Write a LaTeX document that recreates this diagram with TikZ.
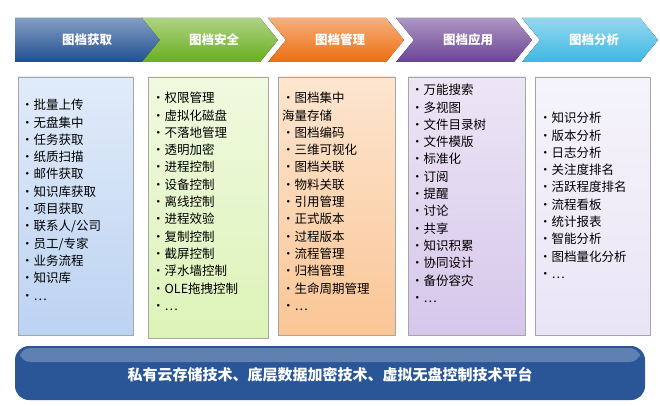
\documentclass[tikz,border=0pt]{standalone}
\usepackage{fontspec}
\setmainfont{Noto Sans CJK SC}
\usetikzlibrary{calc}
\definecolor{cblue}{HTML}{1F4F92}
\definecolor{cgreen}{HTML}{6AAE1F}
\definecolor{corange}{HTML}{EE6E10}
\definecolor{cpurple}{HTML}{6A4394}
\definecolor{ccyan}{HTML}{3DB8E2}
\definecolor{bblue}{HTML}{BCD3F2}
\definecolor{bgreen}{HTML}{DDF3B8}
\definecolor{borange}{HTML}{FAC696}
\definecolor{bpurple}{HTML}{D5C7EA}
\definecolor{bcyan}{HTML}{EAE5F6}
\definecolor{banner}{HTML}{2A5698}
\begin{document}
\begin{tikzpicture}[x=1pt,y=-1pt]
\tikzstyle{item}=[font=\fontsize{12.5}{17.3}\selectfont,align=left,anchor=north west,inner sep=0pt]
\tikzstyle{head}=[font=\bfseries\fontsize{12.5}{14}\selectfont,text=white]
\useasboundingbox (0,0) rectangle (660,406);
% chevrons
\foreach \x/\c/\t/\n in {15/cblue/图档获取/h1,142/cgreen/图档安全/h2,268/corange/图档管理/h3,396/cpurple/图档应用/h4,522/ccyan/图档分析/h5}{
  \ifnum\x=15
    \fill[top color=\c!55,bottom color=\c] (\x,18) -- (\x+128,18) -- (\x+146,40) -- (\x+128,62) -- (\x,62) -- cycle;
  \else
    \fill[top color=\c!55,bottom color=\c] (\x,18) -- (\x+118,18) -- (\x+136,40) -- (\x+118,62) -- (\x,62) -- (\x+18,40) -- cycle;
  \fi
  \node[head] (\n) at (\x+72,40) {\t};
}
% columns
\foreach \xa/\xb/\yb/\c/\n in {18/133/335/bblue/b1,148/268/338/bgreen/b2,278/395/335/borange/b3,408/525/335/bpurple/b4,535/650/335/bcyan/b5}
  \fill[top color=\c!45,bottom color=\c,draw=gray!70,line width=0.6pt] (\xa,77) rectangle (\xb,\yb);
\node[item] (t1) at (21,99) {•批量上传\\•无盘集中\\•任务获取\\•纸质扫描\\•邮件获取\\•知识库获取\\•项目获取\\•联系人/公司\\•员工/专家\\•业务流程\\•知识库\\•…};
\node[item] (t2) at (152,92) {•权限管理\\•虚拟化磁盘\\•不落地管理\\•透明加密\\•进程控制\\•设备控制\\•离线控制\\•进程效验\\•复制控制\\•截屏控制\\•浮水墙控制\\•OLE拖拽控制\\•…};
\node[item] (t3) at (282,92) {•图档集中\\海量存储\\•图档编码\\•三维可视化\\•图档关联\\•物料关联\\•引用管理\\•正式版本\\•过程版本\\•流程管理\\•归档管理\\•生命周期管理\\•…};
\node[item] (t4) at (411,84) {•万能搜索\\•多视图\\•文件目录树\\•文件模版\\•标准化\\•订阅\\•提醒\\•讨论\\•共享\\•知识积累\\•协同设计\\•备份容灾\\•…};
\node[item] (t5) at (539,112) {•知识分析\\•版本分析\\•日志分析\\•关注度排名\\•活跃程度排名\\•流程看板\\•统计报表\\•智能分析\\•图档量化分析\\•…};
% banner
\fill[banner,rounded corners=14pt] (15,346) rectangle (645,400);
\fill[white,opacity=0.25,rounded corners=10pt] (20,348) rectangle (640,362);
\node[font=\bfseries\fontsize{15}{17}\selectfont,text=white] (base) at (330,375) {私有云存储技术、底层数据加密技术、虚拟无盘控制技术平台};
\end{tikzpicture}
\end{document}
